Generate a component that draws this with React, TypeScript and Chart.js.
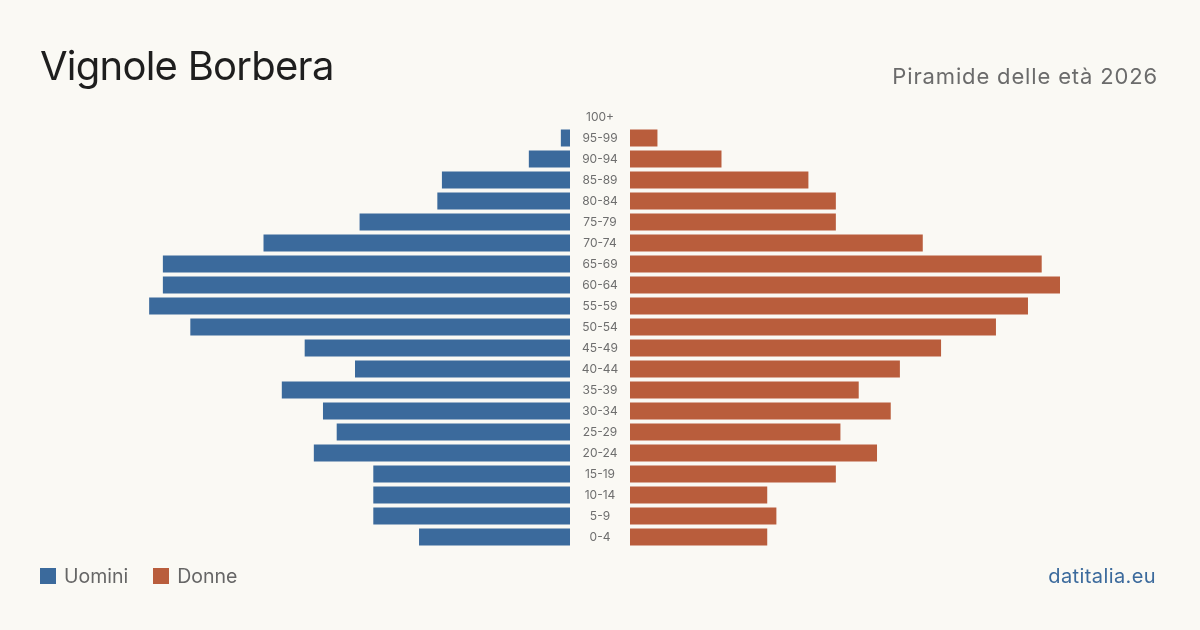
import React, { useEffect, useRef } from "react";
import { Chart, registerables } from "chart.js";

Chart.register(...registerables);

const ageGroups = ["100+", "95-99", "90-94", "85-89", "80-84", "75-79", "70-74", "65-69", "60-64", "55-59", "50-54", "45-49", "40-44", "35-39", "30-34", "25-29", "20-24", "15-19", "10-14", "5-9", "0-4"];
const men = [0, 2, 9, 28, 29, 46, 67, 89, 89, 92, 83, 58, 47, 63, 54, 51, 56, 43, 43, 43, 33];
const women = [0, 6, 20, 39, 45, 45, 64, 90, 94, 87, 80, 68, 59, 50, 57, 46, 54, 45, 30, 32, 30];

const TITLE = "Vignole Borbera";
const SUBTITLE = "Piramide delle età 2026";
const SOURCE = "datitalia.eu";
const MEN_LABEL = "Uomini";
const WOMEN_LABEL = "Donne";

const BLUE = "#3b6a9c";
const RED = "#b95d3c";
const BG = "#faf9f4";
const FONT = "Inter, 'Noto Sans', sans-serif";

export default function App() {
  const canvasRef = useRef<HTMLCanvasElement | null>(null);

  useEffect(() => {
    document.body.style.margin = "0";
    const canvas = canvasRef.current;
    if (!canvas) return;
    const maxVal = Math.max(...men, ...women);
    // gap (in data units) for the central label column: 60px of 920px chart width
    const gap = (maxVal * 60) / (920 - 60);

    const centerLabels = {
      id: "centerLabels",
      afterDatasetsDraw(chart: any) {
        const { ctx, chartArea, scales } = chart;
        const y = scales.y;
        const cx = (chartArea.left + chartArea.right) / 2;
        ctx.save();
        ctx.font = `12px ${FONT}`;
        ctx.fillStyle = "#6e6e6e";
        ctx.textAlign = "center";
        ctx.textBaseline = "middle";
        ageGroups.forEach((lab, i) => {
          ctx.fillText(lab, cx, y.getPixelForValue(i));
        });
        ctx.restore();
      },
    };

    const chart = new Chart(canvas, {
      type: "bar",
      data: {
        labels: ageGroups,
        datasets: [
          {
            label: MEN_LABEL,
            data: men.map((v) => [-(gap + v), -gap]) as any,
            backgroundColor: BLUE,
            borderWidth: 0,
            grouped: false,
            categoryPercentage: 1,
            barPercentage: 17 / 21,
          } as any,
          {
            label: WOMEN_LABEL,
            data: women.map((v) => [gap, gap + v]) as any,
            backgroundColor: RED,
            borderWidth: 0,
            grouped: false,
            categoryPercentage: 1,
            barPercentage: 17 / 21,
          } as any,
        ],
      },
      options: {
        indexAxis: "y",
        responsive: false,
        animation: false,
        layout: { padding: { left: 140, right: 140, top: 106.5, bottom: 82.5 } },
        scales: {
          x: { type: "linear", min: -(maxVal + gap), max: maxVal + gap, display: false },
          y: { type: "category", display: false },
        },
        plugins: { legend: { display: false }, tooltip: { enabled: false } },
      },
      plugins: [centerLabels],
    });
    return () => chart.destroy();
  }, []);

  return (
    <div style={{ position: "relative", width: 1200, height: 630, background: BG, overflow: "hidden", fontFamily: FONT }}>
      <canvas ref={canvasRef} width={1200} height={630} style={{ position: "absolute", left: 0, top: 0, width: 1200, height: 630 }} />
      <div style={{ position: "absolute", left: 40, top: 46, fontSize: 40, lineHeight: "40px", letterSpacing: "-0.75px", color: "#1e1e1e", whiteSpace: "nowrap" }}>{TITLE}</div>
      <div style={{ position: "absolute", right: 42, top: 65, fontSize: 22, lineHeight: "22px", letterSpacing: "0.85px", color: "#6b6b6b", whiteSpace: "nowrap" }}>{SUBTITLE}</div>
      <div style={{ position: "absolute", left: 40, top: 566, height: 20, display: "flex", alignItems: "center", fontSize: 19.5, color: "#666", whiteSpace: "nowrap" }}>
        <span style={{ display: "inline-block", width: 16, height: 16, background: BLUE, marginRight: 8 }} />
        <span style={{ marginRight: 25 }}>{MEN_LABEL}</span>
        <span style={{ display: "inline-block", width: 16, height: 16, background: RED, marginRight: 8 }} />
        <span>{WOMEN_LABEL}</span>
      </div>
      <div style={{ position: "absolute", right: 44, top: 566, height: 20, lineHeight: "20px", fontSize: 20, letterSpacing: "0.4px", color: BLUE, whiteSpace: "nowrap" }}>{SOURCE}</div>
    </div>
  );
}
